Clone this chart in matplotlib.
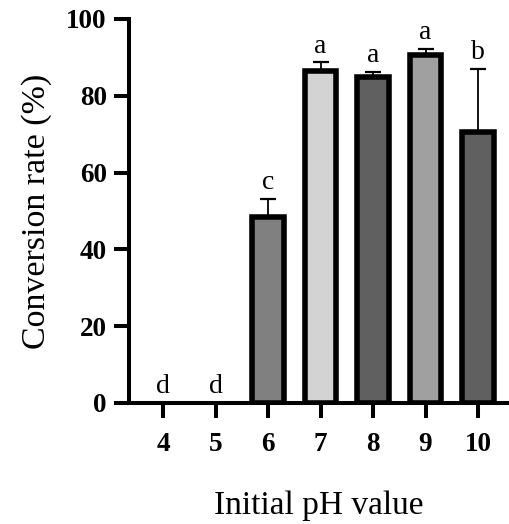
import matplotlib
matplotlib.use("Agg")
import matplotlib.pyplot as plt
import numpy as np

ph = ["4", "5", "6", "7", "8", "9", "10"]
rate = [0, 0, 48.5, 86.5, 85.0, 90.6, 70.5]
err_hi = [0, 0, 4.6, 2.2, 1.3, 1.6, 16.5]
letters = ["d", "d", "c", "a", "a", "a", "b"]
colors = ["#808080", "#808080", "#808080", "#d3d3d3", "#606060", "#a0a0a0", "#606060"]

plt.rcParams['font.family'] = ['Liberation Serif', 'DejaVu Serif']

fig = plt.figure(figsize=(5.09, 5.24), dpi=100)
ax = fig.add_axes([129/509, 1 - 403/524, 380/509, 384/524])

x = np.arange(len(ph))
lws = [0 if r == 0 else 4.0 for r in rate]
ax.bar(x, rate, width=0.6, color=colors, edgecolor="black", linewidth=lws, zorder=3)
ax.errorbar(x[2:], np.array(rate[2:]), yerr=[np.zeros(5), np.array(err_hi[2:])],
            fmt="none", ecolor="black", elinewidth=1.3, capsize=6, capthick=1.6, zorder=2)

for xi, r, e, l in zip(x, rate, err_hi, letters):
    ax.text(xi, r + e + 1.0, l, ha="center", va="bottom", fontsize=20)

ax.set_xlim(-0.65, 6.59)
ax.set_ylim(0, 100)
ax.set_yticks([0, 20, 40, 60, 80, 100])
ax.set_xticks(x)
ax.set_xticklabels(ph)
for s in ["top", "right"]:
    ax.spines[s].set_visible(False)
for s in ["left", "bottom"]:
    ax.spines[s].set_linewidth(2.9)
ax.tick_params(axis="both", width=2.9, length=11, labelsize=19.5)
ax.tick_params(axis="x", pad=10)
ax.tick_params(axis="y", pad=5)
for lab in ax.get_xticklabels() + ax.get_yticklabels():
    lab.set_fontweight("bold")
ax.set_xlabel("Initial pH value", fontsize=24, labelpad=24)
ax.set_ylabel("Conversion rate (%)", fontsize=24.5, labelpad=10)

fig.savefig("out.png", dpi=100)
